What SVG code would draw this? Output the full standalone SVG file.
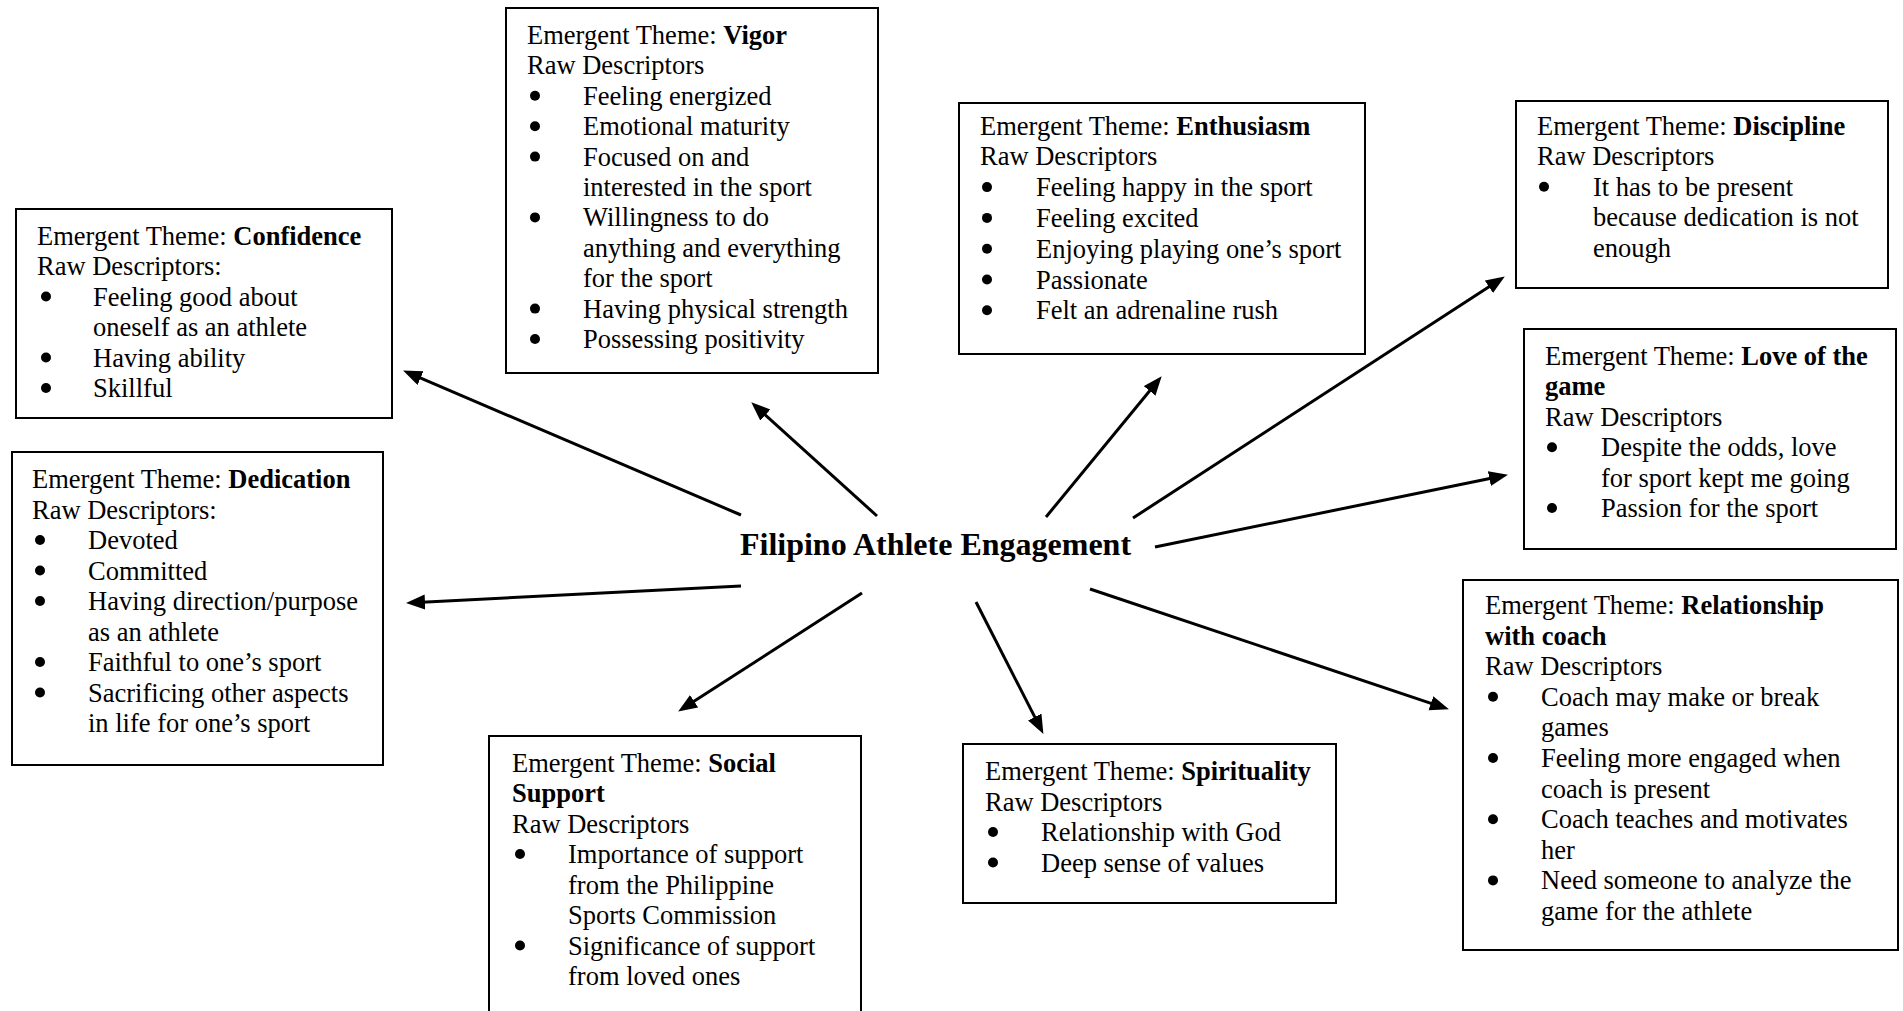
<svg xmlns="http://www.w3.org/2000/svg" width="1903" height="1011" viewBox="0 0 1903 1011">
<style>
  .box { fill: #ffffff; stroke: #000000; stroke-width: 2; }
  .t { font-family: "Liberation Serif", "Times New Roman", serif; font-size: 26.5px; fill: #000000; }
  .b { font-weight: bold; }
  .title { font-family: "Liberation Serif", "Times New Roman", serif; font-size: 32px; font-weight: bold; fill: #000000; }
  .dot { fill: #000000; }
  .conn line { stroke: #000000; stroke-width: 3; fill: none; marker-end: url(#arrow); }
</style>
<defs>
  <marker id="arrow" markerUnits="userSpaceOnUse" markerWidth="20" markerHeight="16" refX="8" refY="7.5" orient="auto">
    <path d="M0,0 L19,7.5 L0,15 Z" fill="#000000"/>
  </marker>
</defs>
<rect x="0" y="0" width="1903" height="1011" fill="#ffffff"/>

<g id="node-center">
  <text class="title" x="935.5" y="555" text-anchor="middle">Filipino Athlete Engagement</text>
</g>

<g id="node-confidence">
  <rect class="box" x="16" y="209" width="376" height="209"/>
  <text class="t" x="37" y="244.5">Emergent Theme: <tspan class="b">Confidence</tspan></text>
  <text class="t" x="37" y="275">Raw Descriptors:</text>
  <circle class="dot" cx="46" cy="296.5" r="5"/>
  <text class="t" x="93" y="305.5">Feeling good about</text>
  <text class="t" x="93" y="336">oneself as an athlete</text>
  <circle class="dot" cx="46" cy="357.5" r="5"/>
  <text class="t" x="93" y="366.5">Having ability</text>
  <circle class="dot" cx="46" cy="388" r="5"/>
  <text class="t" x="93" y="397">Skillful</text>
</g>

<g id="node-vigor">
  <rect class="box" x="506" y="8" width="372" height="365"/>
  <text class="t" x="527" y="44">Emergent Theme: <tspan class="b">Vigor</tspan></text>
  <text class="t" x="527" y="74.4">Raw Descriptors</text>
  <circle class="dot" cx="535" cy="95.8" r="5"/>
  <text class="t" x="583" y="104.8">Feeling energized</text>
  <circle class="dot" cx="535" cy="126.2" r="5"/>
  <text class="t" x="583" y="135.2">Emotional maturity</text>
  <circle class="dot" cx="535" cy="156.6" r="5"/>
  <text class="t" x="583" y="165.6">Focused on and</text>
  <text class="t" x="583" y="196">interested in the sport</text>
  <circle class="dot" cx="535" cy="217.4" r="5"/>
  <text class="t" x="583" y="226.4">Willingness to do</text>
  <text class="t" x="583" y="256.8">anything and everything</text>
  <text class="t" x="583" y="287.2">for the sport</text>
  <circle class="dot" cx="535" cy="308.6" r="5"/>
  <text class="t" x="583" y="317.6">Having physical strength</text>
  <circle class="dot" cx="535" cy="339" r="5"/>
  <text class="t" x="583" y="348">Possessing positivity</text>
</g>

<g id="node-enthusiasm">
  <rect class="box" x="959" y="103" width="406" height="251"/>
  <text class="t" x="980" y="134.5">Emergent Theme: <tspan class="b">Enthusiasm</tspan></text>
  <text class="t" x="980" y="165.3">Raw Descriptors</text>
  <circle class="dot" cx="987" cy="187.1" r="5"/>
  <text class="t" x="1036" y="196.1">Feeling happy in the sport</text>
  <circle class="dot" cx="987" cy="217.9" r="5"/>
  <text class="t" x="1036" y="226.9">Feeling excited</text>
  <circle class="dot" cx="987" cy="248.7" r="5"/>
  <text class="t" x="1036" y="257.7">Enjoying playing one’s sport</text>
  <circle class="dot" cx="987" cy="279.5" r="5"/>
  <text class="t" x="1036" y="288.5">Passionate</text>
  <circle class="dot" cx="987" cy="310.3" r="5"/>
  <text class="t" x="1036" y="319.3">Felt an adrenaline rush</text>
</g>

<g id="node-discipline">
  <rect class="box" x="1516" y="101" width="372" height="187"/>
  <text class="t" x="1537" y="135">Emergent Theme: <tspan class="b">Discipline</tspan></text>
  <text class="t" x="1537" y="165.4">Raw Descriptors</text>
  <circle class="dot" cx="1544" cy="186.8" r="5"/>
  <text class="t" x="1593" y="195.8">It has to be present</text>
  <text class="t" x="1593" y="226.2">because dedication is not</text>
  <text class="t" x="1593" y="256.6">enough</text>
</g>

<g id="node-love">
  <rect class="box" x="1524" y="329" width="372" height="220"/>
  <text class="t" x="1545" y="365">Emergent Theme: <tspan class="b">Love of the</tspan></text>
  <text class="t b" x="1545" y="395.4">game</text>
  <text class="t" x="1545" y="425.8">Raw Descriptors</text>
  <circle class="dot" cx="1552" cy="447.2" r="5"/>
  <text class="t" x="1601" y="456.2">Despite the odds, love</text>
  <text class="t" x="1601" y="486.6">for sport kept me going</text>
  <circle class="dot" cx="1552" cy="508" r="5"/>
  <text class="t" x="1601" y="517">Passion for the sport</text>
</g>

<g id="node-dedication">
  <rect class="box" x="12" y="452" width="371" height="313"/>
  <text class="t" x="32" y="488">Emergent Theme: <tspan class="b">Dedication</tspan></text>
  <text class="t" x="32" y="518.5">Raw Descriptors:</text>
  <circle class="dot" cx="40" cy="540" r="5"/>
  <text class="t" x="88" y="549">Devoted</text>
  <circle class="dot" cx="40" cy="570.5" r="5"/>
  <text class="t" x="88" y="579.5">Committed</text>
  <circle class="dot" cx="40" cy="601" r="5"/>
  <text class="t" x="88" y="610">Having direction/purpose</text>
  <text class="t" x="88" y="640.5">as an athlete</text>
  <circle class="dot" cx="40" cy="662" r="5"/>
  <text class="t" x="88" y="671">Faithful to one’s sport</text>
  <circle class="dot" cx="40" cy="692.5" r="5"/>
  <text class="t" x="88" y="701.5">Sacrificing other aspects</text>
  <text class="t" x="88" y="732">in life for one’s sport</text>
</g>

<g id="node-social">
  <rect class="box" x="489" y="736" width="372" height="300"/>
  <text class="t" x="512" y="771.5">Emergent Theme: <tspan class="b">Social</tspan></text>
  <text class="t b" x="512" y="802">Support</text>
  <text class="t" x="512" y="832.5">Raw Descriptors</text>
  <circle class="dot" cx="520" cy="854" r="5"/>
  <text class="t" x="568" y="863">Importance of support</text>
  <text class="t" x="568" y="893.5">from the Philippine</text>
  <text class="t" x="568" y="924">Sports Commission</text>
  <circle class="dot" cx="520" cy="945.5" r="5"/>
  <text class="t" x="568" y="954.5">Significance of support</text>
  <text class="t" x="568" y="985">from loved ones</text>
</g>

<g id="node-spirituality">
  <rect class="box" x="963" y="744" width="373" height="159"/>
  <text class="t" x="985" y="780">Emergent Theme: <tspan class="b">Spirituality</tspan></text>
  <text class="t" x="985" y="810.5">Raw Descriptors</text>
  <circle class="dot" cx="993" cy="832" r="5"/>
  <text class="t" x="1041" y="841">Relationship with God</text>
  <circle class="dot" cx="993" cy="862.5" r="5"/>
  <text class="t" x="1041" y="871.5">Deep sense of values</text>
</g>

<g id="node-relationship">
  <rect class="box" x="1463" y="580" width="435" height="370"/>
  <text class="t" x="1485" y="614">Emergent Theme: <tspan class="b">Relationship</tspan></text>
  <text class="t b" x="1485" y="644.6">with coach</text>
  <text class="t" x="1485" y="675.2">Raw Descriptors</text>
  <circle class="dot" cx="1493" cy="696.8" r="5"/>
  <text class="t" x="1541" y="705.8">Coach may make or break</text>
  <text class="t" x="1541" y="736.4">games</text>
  <circle class="dot" cx="1493" cy="758" r="5"/>
  <text class="t" x="1541" y="767">Feeling more engaged when</text>
  <text class="t" x="1541" y="797.6">coach is present</text>
  <circle class="dot" cx="1493" cy="819.2" r="5"/>
  <text class="t" x="1541" y="828.2">Coach teaches and motivates</text>
  <text class="t" x="1541" y="858.8">her</text>
  <circle class="dot" cx="1493" cy="880.4" r="5"/>
  <text class="t" x="1541" y="889.4">Need someone to analyze the</text>
  <text class="t" x="1541" y="920">game for the athlete</text>
</g>

<g id="connectors" class="conn">
  <line x1="741" y1="515" x2="413.2" y2="374.9"/>
  <line x1="877" y1="516" x2="759.4" y2="409.7"/>
  <line x1="741" y1="586" x2="417" y2="602.5"/>
  <line x1="1046" y1="517" x2="1154.7" y2="384.7"/>
  <line x1="1133" y1="518" x2="1495.6" y2="282.4"/>
  <line x1="1155" y1="547" x2="1497.2" y2="477"/>
  <line x1="862" y1="593" x2="687.4" y2="705.6"/>
  <line x1="976" y1="602" x2="1038.4" y2="724.1"/>
  <line x1="1090" y1="589" x2="1438.5" y2="705.8"/>
</g>
</svg>
